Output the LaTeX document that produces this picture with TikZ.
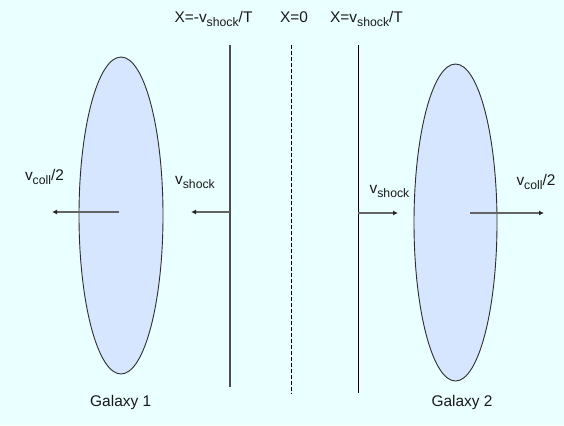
\documentclass[tikz,border=0pt]{standalone}
\usepackage{fontspec}
\setmainfont{Liberation Sans}
\usetikzlibrary{arrows.meta,shapes.geometric}
\definecolor{bgc}{RGB}{234,255,255}
\definecolor{galfill}{RGB}{214,230,255}
\definecolor{galedge}{RGB}{45,45,45}
\definecolor{arrline}{RGB}{100,100,100}
\definecolor{txt}{RGB}{25,25,25}
\newcommand{\sbs}[1]{\raisebox{-4bp}{\fontsize{12.3}{14}\selectfont #1}}
\tikzset{
  galaxy/.style={ellipse, draw=galedge, fill=galfill, line width=0.9bp, inner sep=0pt},
  lbl/.style={anchor=base, inner sep=0pt, text=txt, font=\fontsize{15.5}{18}\selectfont},
  vel/.style={draw=arrline, line width=1.3bp, -{Latex[length=5bp,width=5bp,color=black!85]}},
  shockline/.style={line width=1bp},
}
\begin{document}
\begin{tikzpicture}[x=1bp,y=-1bp]
\fill[bgc] (0,0) rectangle (564,425);
\useasboundingbox (0,0) rectangle (564,425);
% galaxies
\node[galaxy, minimum width=84bp, minimum height=317bp] (g1) at (121,215.5) {};
\node[galaxy, minimum width=83bp, minimum height=317bp] (g2) at (455.5,222.5) {};
% planes
\coordinate (lt) at (230,44.5); \coordinate (lb) at (230,387);
\coordinate (mt) at (291.7,44.5); \coordinate (mb) at (291.7,393);
\coordinate (rt) at (358.3,44.5); \coordinate (rb) at (358.3,393);
\draw[shockline, draw=black!70, line width=1.4bp] (lt) -- (lb);
\draw[shockline, dash pattern=on 4bp off 2bp] (mt) -- (mb);
\draw[shockline] (rt) -- (rb);
% arrows
\coordinate (a1s) at (119,212); \coordinate (a1e) at (52,212);
\coordinate (a2s) at (230,212); \coordinate (a2e) at (191,212);
\coordinate (a3s) at (358.3,213); \coordinate (a3e) at (398,213);
\coordinate (a4s) at (470,213); \coordinate (a4e) at (544,213);
\draw[vel] (a1s) -- (a1e);
\draw[vel] (a2s) -- (a2e);
\draw[vel] (a3s) -- (a3e);
\draw[vel] (a4s) -- (a4e);
% labels
\node[lbl] (t1) at (213.5,22) {X=-v\sbs{shock}/T};
\node[lbl] (t2) at (294,22) {X=0};
\node[lbl] (t3) at (366.5,22) {X=v\sbs{shock}/T};
\node[lbl] (l1) at (44.5,180) {v\sbs{coll}/2};
\node[lbl] (l2) at (195,184) {v\sbs{shock}};
\node[lbl] (l3) at (389.5,193) {v\sbs{shock}};
\node[lbl] (l4) at (536,185) {v\sbs{coll}/2};
\node[lbl] (n1) at (120.7,406.7) {Galaxy 1};
\node[lbl] (n2) at (462,406.7) {Galaxy 2};
\end{tikzpicture}
\end{document}
